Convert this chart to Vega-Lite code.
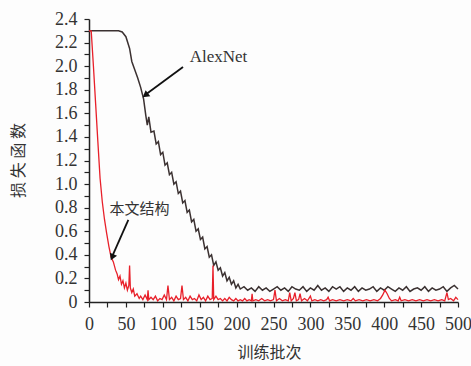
{
  "$schema": "https://vega.github.io/schema/vega-lite/v6.json",
  "width": 369,
  "height": 283,
  "autosize": {"type": "none"},
  "padding": {"left": 89, "top": 19, "right": 13, "bottom": 64},
  "background": "#fdfdfd",
  "config": {
    "view": {"stroke": null},
    "axis": {
      "grid": false, "domainColor": "#222", "domainWidth": 1.5,
      "tickColor": "#222", "tickWidth": 1.2,
      "labelFont": "Liberation Serif", "labelFontSize": 18, "labelColor": "#333",
      "titleFont": "Noto Sans CJK SC", "titleFontSize": 16, "titleFontWeight": "normal", "titleColor": "#333"
    }
  },
  "datasets": {
    "alex": [
      {"epoch":0,"loss":2.3},{"epoch":5,"loss":2.3},{"epoch":10,"loss":2.3},{"epoch":15,"loss":2.3},{"epoch":20,"loss":2.3},{"epoch":25,"loss":2.3},{"epoch":30,"loss":2.3},{"epoch":35,"loss":2.3},{"epoch":40,"loss":2.3},{"epoch":45,"loss":2.29},{"epoch":50,"loss":2.25},{"epoch":55,"loss":2.15},{"epoch":58,"loss":2.04},{"epoch":62,"loss":1.97},{"epoch":66,"loss":1.9},{"epoch":70,"loss":1.82},{"epoch":74,"loss":1.72},{"epoch":77,"loss":1.58},{"epoch":79,"loss":1.5},{"epoch":81,"loss":1.57},{"epoch":84,"loss":1.44},{"epoch":88,"loss":1.45},{"epoch":91,"loss":1.34},{"epoch":94,"loss":1.36},{"epoch":97,"loss":1.25},{"epoch":100,"loss":1.27},{"epoch":103,"loss":1.16},{"epoch":106,"loss":1.18},{"epoch":109,"loss":1.08},{"epoch":112,"loss":1.1},{"epoch":115,"loss":1.0},{"epoch":118,"loss":1.02},{"epoch":121,"loss":0.92},{"epoch":124,"loss":0.94},{"epoch":127,"loss":0.84},{"epoch":130,"loss":0.86},{"epoch":133,"loss":0.76},{"epoch":136,"loss":0.78},{"epoch":139,"loss":0.68},{"epoch":142,"loss":0.7},{"epoch":145,"loss":0.6},{"epoch":148,"loss":0.62},{"epoch":151,"loss":0.53},{"epoch":154,"loss":0.55},{"epoch":157,"loss":0.45},{"epoch":160,"loss":0.47},{"epoch":163,"loss":0.38},{"epoch":166,"loss":0.4},{"epoch":169,"loss":0.31},{"epoch":172,"loss":0.34},{"epoch":175,"loss":0.27},{"epoch":178,"loss":0.29},{"epoch":181,"loss":0.22},{"epoch":184,"loss":0.25},{"epoch":187,"loss":0.18},{"epoch":190,"loss":0.21},{"epoch":193,"loss":0.15},{"epoch":196,"loss":0.18},{"epoch":199,"loss":0.12},{"epoch":202,"loss":0.15},{"epoch":205,"loss":0.11},{"epoch":210,"loss":0.13},
      {"epoch":215,"loss":0.1},{"epoch":220,"loss":0.12},{"epoch":225,"loss":0.09},{"epoch":230,"loss":0.13},{"epoch":235,"loss":0.1},{"epoch":240,"loss":0.12},{"epoch":245,"loss":0.09},{"epoch":250,"loss":0.11},{"epoch":255,"loss":0.13},{"epoch":260,"loss":0.1},{"epoch":265,"loss":0.12},{"epoch":270,"loss":0.09},{"epoch":275,"loss":0.13},{"epoch":280,"loss":0.11},{"epoch":285,"loss":0.1},{"epoch":290,"loss":0.13},{"epoch":295,"loss":0.09},{"epoch":300,"loss":0.12},{"epoch":305,"loss":0.1},{"epoch":310,"loss":0.14},{"epoch":315,"loss":0.1},{"epoch":320,"loss":0.12},{"epoch":325,"loss":0.09},{"epoch":330,"loss":0.13},{"epoch":335,"loss":0.11},{"epoch":340,"loss":0.13},{"epoch":345,"loss":0.09},{"epoch":350,"loss":0.12},{"epoch":355,"loss":0.1},{"epoch":360,"loss":0.13},{"epoch":365,"loss":0.09},{"epoch":370,"loss":0.12},{"epoch":375,"loss":0.1},{"epoch":380,"loss":0.11},{"epoch":385,"loss":0.13},{"epoch":390,"loss":0.09},{"epoch":395,"loss":0.12},{"epoch":400,"loss":0.1},{"epoch":405,"loss":0.13},{"epoch":410,"loss":0.11},{"epoch":415,"loss":0.09},{"epoch":420,"loss":0.12},{"epoch":425,"loss":0.1},{"epoch":430,"loss":0.13},{"epoch":435,"loss":0.09},{"epoch":440,"loss":0.11},{"epoch":445,"loss":0.12},{"epoch":450,"loss":0.1},{"epoch":455,"loss":0.13},{"epoch":460,"loss":0.09},{"epoch":465,"loss":0.12},{"epoch":470,"loss":0.1},{"epoch":475,"loss":0.11},{"epoch":480,"loss":0.13},{"epoch":485,"loss":0.09},{"epoch":490,"loss":0.12},{"epoch":495,"loss":0.14},{"epoch":500,"loss":0.11}
    ],
    "ours": [
      {"epoch":0,"loss":2.3},{"epoch":3,"loss":2.3},{"epoch":6,"loss":2.0},{"epoch":9,"loss":1.68},{"epoch":12,"loss":1.36},{"epoch":15,"loss":1.05},{"epoch":18,"loss":0.85},{"epoch":21,"loss":0.7},{"epoch":24,"loss":0.58},{"epoch":27,"loss":0.47},{"epoch":30,"loss":0.38},{"epoch":33,"loss":0.34},{"epoch":36,"loss":0.27},{"epoch":38,"loss":0.24},{"epoch":40,"loss":0.19},{"epoch":42,"loss":0.22},{"epoch":44,"loss":0.15},{"epoch":46,"loss":0.18},{"epoch":48,"loss":0.12},{"epoch":50,"loss":0.16},{"epoch":52,"loss":0.1},{"epoch":54,"loss":0.14},{"epoch":55,"loss":0.31},{"epoch":56,"loss":0.12},{"epoch":58,"loss":0.08},{"epoch":60,"loss":0.11},{"epoch":62,"loss":0.05},{"epoch":65,"loss":0.07},{"epoch":68,"loss":0.03},{"epoch":70,"loss":0.05},{"epoch":73,"loss":0.02},{"epoch":76,"loss":0.06},{"epoch":79,"loss":0.02},{"epoch":80,"loss":0.1},{"epoch":81,"loss":0.02},{"epoch":84,"loss":0.04},{"epoch":87,"loss":0.02},{"epoch":90,"loss":0.05},{"epoch":93,"loss":0.01},{"epoch":96,"loss":0.03},{"epoch":99,"loss":0.02},{"epoch":102,"loss":0.06},{"epoch":105,"loss":0.02},{"epoch":107,"loss":0.14},{"epoch":109,"loss":0.02},{"epoch":112,"loss":0.04},{"epoch":115,"loss":0.01},{"epoch":118,"loss":0.05},{"epoch":121,"loss":0.02},{"epoch":124,"loss":0.03},{"epoch":126,"loss":0.14},{"epoch":128,"loss":0.02},{"epoch":131,"loss":0.04},{"epoch":134,"loss":0.01},{"epoch":137,"loss":0.05},{"epoch":140,"loss":0.02},{"epoch":143,"loss":0.03},{"epoch":146,"loss":0.01},{"epoch":149,"loss":0.06},{"epoch":152,"loss":0.02},{"epoch":155,"loss":0.04},{"epoch":158,"loss":0.01},{"epoch":161,"loss":0.05},{"epoch":164,"loss":0.02},{"epoch":167,"loss":0.03},{"epoch":168,"loss":0.31},{"epoch":169,"loss":0.02},{"epoch":172,"loss":0.05},{"epoch":175,"loss":0.02},{"epoch":178,"loss":0.03},{"epoch":181,"loss":0.01},{"epoch":184,"loss":0.03},{"epoch":187,"loss":0.01},{"epoch":190,"loss":0.04},{"epoch":193,"loss":0.02},{"epoch":196,"loss":0.01},{"epoch":199,"loss":0.03},{"epoch":202,"loss":0.01},{"epoch":205,"loss":0.02},{"epoch":208,"loss":0.01},{"epoch":211,"loss":0.03},{"epoch":214,"loss":0.01},{"epoch":217,"loss":0.02},{"epoch":220,"loss":0.01},{"epoch":221,"loss":0.07},{"epoch":222,"loss":0.01},{"epoch":226,"loss":0.02},{"epoch":230,"loss":0.01},{"epoch":234,"loss":0.03},{"epoch":238,"loss":0.01},{"epoch":242,"loss":0.02},{"epoch":246,"loss":0.01},{"epoch":250,"loss":0.02},{"epoch":252,"loss":0.1},{"epoch":254,"loss":0.01},{"epoch":258,"loss":0.03},{"epoch":262,"loss":0.01},{"epoch":266,"loss":0.02},{"epoch":270,"loss":0.01},{"epoch":272,"loss":0.08},{"epoch":274,"loss":0.01},{"epoch":277,"loss":0.03},{"epoch":279,"loss":0.08},{"epoch":281,"loss":0.01},{"epoch":284,"loss":0.02},{"epoch":286,"loss":0.07},{"epoch":288,"loss":0.01},{"epoch":292,"loss":0.03},{"epoch":296,"loss":0.01},{"epoch":300,"loss":0.05},{"epoch":302,"loss":0.01},{"epoch":306,"loss":0.02},{"epoch":310,"loss":0.01},{"epoch":314,"loss":0.02},{"epoch":318,"loss":0.01},{"epoch":322,"loss":0.02},{"epoch":324,"loss":0.04},{"epoch":326,"loss":0.01},{"epoch":330,"loss":0.02},{"epoch":335,"loss":0.01},{"epoch":340,"loss":0.02},{"epoch":345,"loss":0.01},{"epoch":350,"loss":0.02},{"epoch":355,"loss":0.01},{"epoch":358,"loss":0.03},{"epoch":361,"loss":0.01},{"epoch":366,"loss":0.02},{"epoch":371,"loss":0.01},{"epoch":376,"loss":0.02},{"epoch":381,"loss":0.01},{"epoch":386,"loss":0.02},{"epoch":391,"loss":0.01},{"epoch":395,"loss":0.03},{"epoch":398,"loss":0.06},{"epoch":401,"loss":0.1},{"epoch":404,"loss":0.07},{"epoch":407,"loss":0.03},{"epoch":410,"loss":0.01},{"epoch":415,"loss":0.02},{"epoch":419,"loss":0.01},{"epoch":421,"loss":0.04},{"epoch":423,"loss":0.01},{"epoch":428,"loss":0.02},{"epoch":433,"loss":0.01},{"epoch":438,"loss":0.02},{"epoch":443,"loss":0.01},{"epoch":448,"loss":0.02},{"epoch":453,"loss":0.01},{"epoch":458,"loss":0.02},{"epoch":463,"loss":0.01},{"epoch":468,"loss":0.02},{"epoch":473,"loss":0.01},{"epoch":478,"loss":0.02},{"epoch":482,"loss":0.01},{"epoch":485,"loss":0.08},{"epoch":487,"loss":0.02},{"epoch":490,"loss":0.03},{"epoch":494,"loss":0.01},{"epoch":497,"loss":0.04},{"epoch":500,"loss":0.02}
    ],
    "arrows": [
      {"epoch":127.4,"loss":1.993,"ex":75.0,"ey":1.752},
      {"epoch":53.3,"loss":0.696,"ex":31.0,"ey":0.38}
    ],
    "heads": [
      {"epoch":77.5,"loss":1.759,"angle":233},
      {"epoch":32.0,"loss":0.388,"angle":203}
    ],
    "labels": [
      {"epoch":175.5,"loss":2.074,"label":"AlexNet"},
      {"epoch":68.4,"loss":0.785,"label":"本文结构"}
    ]
  },
  "encoding": {
    "x": {
      "field": "epoch", "type": "quantitative",
      "scale": {"domain": [0, 500], "nice": false},
      "axis": {
        "values": [0,25,50,75,100,125,150,175,200,225,250,275,300,325,350,375,400,425,450,475,500],
        "labelExpr": "datum.value % 50 == 0 ? datum.label : ''",
        "tickSize": 5,
        "labelPadding": 8, "labelFlush": false, "labelOverlap": false,
        "title": "训练批次",
        "titleX": 180, "titleY": 50, "titleBaseline": "middle", "titleAlign": "center"
      }
    },
    "y": {
      "field": "loss", "type": "quantitative",
      "scale": {"domain": [0, 2.4], "nice": false},
      "axis": {
        "values": [0,0.1,0.2,0.3,0.4,0.5,0.6,0.7,0.8,0.9,1.0,1.1,1.2,1.3,1.4,1.5,1.6,1.7,1.8,1.9,2.0,2.1,2.2,2.3,2.4],
        "labelExpr": "round(datum.value*10) % 2 == 0 ? (datum.value == 0 ? '0' : format(datum.value, '.1f')) : ''",
        "tickSize": 5,
        "labelPadding": 7, "labelFlush": false, "labelOverlap": false,
        "title": "损 失 函 数",
        "titleAngle": -90, "titleX": -71, "titleY": 141, "titleBaseline": "middle", "titleAlign": "center"
      }
    }
  },
  "layer": [
    {
      "data": {"name": "alex"},
      "mark": {"type": "line", "color": "#3b3131", "strokeWidth": 1.5}
    },
    {
      "data": {"name": "ours"},
      "mark": {"type": "line", "color": "#e8202a", "strokeWidth": 1.3}
    },
    {
      "data": {"name": "arrows"},
      "mark": {"type": "rule", "color": "#111", "strokeWidth": 1.8},
      "encoding": {
        "x2": {"field": "ex"},
        "y2": {"field": "ey"}
      }
    },
    {
      "data": {"name": "heads"},
      "mark": {"type": "point", "shape": "triangle", "filled": true, "color": "#111", "size": 60, "opacity": 1},
      "encoding": {
        "angle": {"field": "angle", "type": "quantitative", "scale": null}
      }
    },
    {
      "data": {"name": "labels"},
      "transform": [{"filter": "datum.label == 'AlexNet'"}],
      "mark": {"type": "text", "color": "#333", "align": "center", "baseline": "middle", "font": "Liberation Serif", "fontSize": 17},
      "encoding": {
        "text": {"field": "label"}
      }
    },
    {
      "data": {"name": "labels"},
      "transform": [{"filter": "datum.label != 'AlexNet'"}],
      "mark": {"type": "text", "color": "#333", "align": "center", "baseline": "middle", "font": "Noto Sans CJK SC", "fontSize": 15},
      "encoding": {
        "text": {"field": "label"}
      }
    }
  ]
}
